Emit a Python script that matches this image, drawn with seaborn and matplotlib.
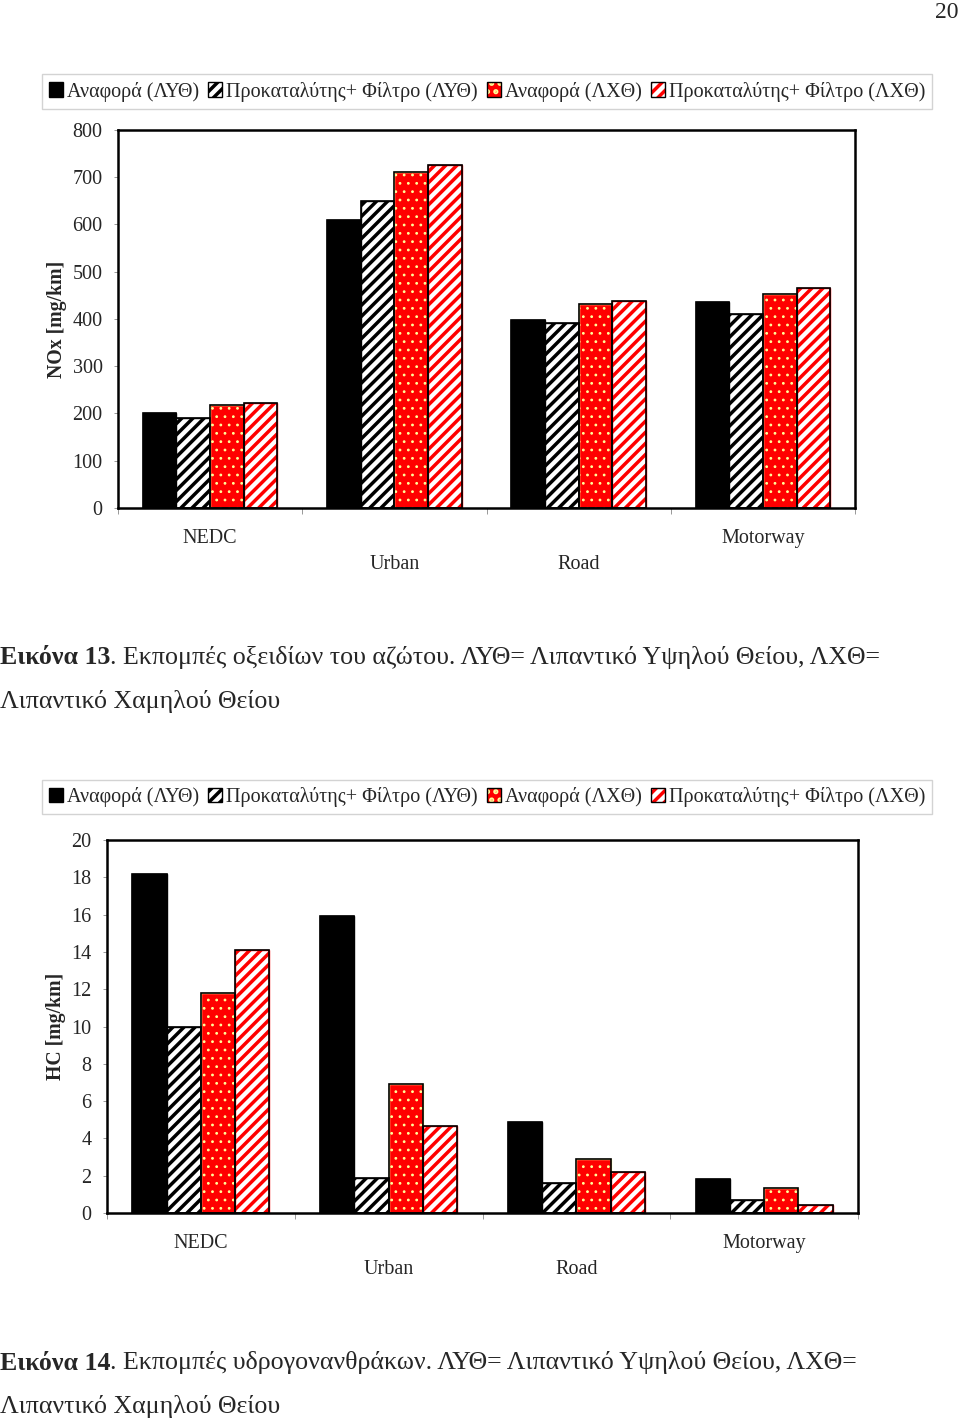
import numpy as np
import pandas as pd
import matplotlib
matplotlib.use("Agg")
import matplotlib.pyplot as plt
import seaborn as sns
from matplotlib.patches import Patch, Rectangle
from matplotlib.legend_handler import HandlerTuple

# test cycles and fuel/aftertreatment configurations
cycles = ["NEDC", "Urban", "Road", "Motorway"]
series = ["Αναφορά (ΛΥΘ)", "Προκαταλύτης+ Φίλτρο (ΛΥΘ)",
          "Αναφορά (ΛΧΘ)", "Προκαταλύτης+ Φίλτρο (ΛΧΘ)"]

# NOx [mg/km]
nox_ref_hs = [201, 610, 398, 436]
nox_filt_hs = [190, 650, 391, 411]
nox_ref_ls = [218, 711, 432, 453]
nox_filt_ls = [222, 726, 438, 466]

# HC [mg/km]
hc_ref_hs = [18.2, 15.9, 4.9, 1.8]
hc_filt_hs = [10.0, 1.9, 1.6, 0.7]
hc_ref_ls = [11.8, 6.9, 2.9, 1.35]
hc_filt_ls = [14.1, 4.65, 2.2, 0.45]

RED = "#ff0000"
styles = [
    dict(face="black", edge="black", hatch=None, hlw=1.0),
    dict(face="white", edge="black", hatch="///", hlw=2.5),
    dict(face=RED, edge="#ffff9a", hatch="..", hlw=0.8),
    dict(face="white", edge=RED, hatch="///", hlw=2.5),
]

sns.set_style("ticks")
plt.rcParams["font.family"] = ["Liberation Serif", "DejaVu Serif"]
plt.rcParams["hatch.linewidth"] = 2.5
FS = 14.5


def build_frame(values):
    return pd.DataFrame({
        "cycle": cycles * len(series),
        "series": np.repeat(series, len(cycles)),
        "value": np.concatenate(values),
    })


def style_patch(p, st):
    p.set_facecolor(st["face"])
    p.set_edgecolor(st["edge"])
    if st["hatch"]:
        p.set_hatch(st["hatch"])
        if hasattr(p, "set_hatch_linewidth"):
            p.set_hatch_linewidth(st["hlw"])


def draw_panel(ax, values, ymax, step, ylabel):
    df = build_frame(values)
    sns.barplot(data=df, x="cycle", y="value", hue="series", order=cycles,
                hue_order=series, palette=["black"] * 4, width=0.73, gap=0,
                saturation=1, errorbar=None, legend=False, ax=ax)
    for cont, st in zip(ax.containers, styles):
        for bar in cont:
            style_patch(bar, st)
            bar.set_linewidth(1.0)
            ax.add_patch(Rectangle(bar.get_xy(), bar.get_width(), bar.get_height(),
                                   fill=False, edgecolor="black", linewidth=1.2,
                                   zorder=bar.get_zorder() + 0.1))
    ax.set_xlim(-0.5, len(cycles) - 0.5)
    ax.set_ylim(0, ymax)
    ax.set_yticks(np.arange(0, ymax + step / 2, step))
    ax.set_xticks(range(len(cycles)))
    stagger = [False, True, True, False]
    ax.set_xticklabels(["\n" + c if s else c for c, s in zip(cycles, stagger)],
                       fontsize=14.5, linespacing=1.5)
    ax.set_xticks(np.arange(-0.5, len(cycles), 1), minor=True)
    ax.tick_params(axis="x", which="major", length=0, pad=15)
    ax.tick_params(axis="x", which="minor", length=4, width=0.6, color="#888888")
    ax.tick_params(axis="y", length=3, width=0.6, color="#888888", pad=8, labelsize=FS)
    ax.set_xlabel("")
    ax.set_ylabel(ylabel, fontsize=14.2, fontweight="bold", labelpad=4)
    for sp in ax.spines.values():
        sp.set_visible(True)
        sp.set_linewidth(1.8)
        sp.set_color("black")


def add_legend(fig, y):
    handles = []
    for st in styles:
        fill = Patch(linewidth=0)
        style_patch(fill, st)
        outline = Patch(fill=False, edgecolor="black", linewidth=1.0)
        handles.append((fill, outline))
    leg = fig.legend(handles, series, loc="center", bbox_to_anchor=(487 / 960, y),
                     ncol=4, fontsize=FS, frameon=True, fancybox=False,
                     edgecolor="#c8c8c8", handlelength=0.7, handleheight=0.7,
                     handletextpad=0.2, columnspacing=0.45, borderpad=0.35,
                     borderaxespad=0,
                     handler_map={tuple: HandlerTuple(ndivide=1, pad=0)})
    leg.get_frame().set_linewidth(1.0)
    return leg


def add_caption(fig, y, number, rest, line2, fs=18.6):
    t = fig.text(0.0, y, "Εικόνα " + number, fontsize=fs, fontweight="bold",
                 ha="left", va="center")
    fig.canvas.draw()
    x1 = t.get_window_extent().x1 / fig.bbox.width
    fig.text(x1, y, rest, fontsize=fs, ha="left", va="center")
    fig.text(0.0, y - 44 / 1424, line2, fontsize=fs, ha="left", va="center")


fig = plt.figure(figsize=(9.6, 14.24), dpi=100)

ax1 = fig.add_axes([118 / 960, 1 - 508 / 1424, 737 / 960, 378 / 1424])
draw_panel(ax1, [nox_ref_hs, nox_filt_hs, nox_ref_ls, nox_filt_ls], 800, 100,
           "NOx [mg/km]")
add_legend(fig, 1 - 91.5 / 1424)

ax2 = fig.add_axes([107 / 960, 1 - 1213 / 1424, 751 / 960, 373 / 1424])
draw_panel(ax2, [hc_ref_hs, hc_filt_hs, hc_ref_ls, hc_filt_ls], 20, 2,
           "HC [mg/km]")
add_legend(fig, 1 - 797 / 1424)

fig.text(958 / 960, 1 - 12 / 1424, "20", fontsize=17, ha="right", va="center")
add_caption(fig, 1 - 658 / 1424, "13",
            ". Εκπομπές οξειδίων του αζώτου. ΛΥΘ= Λιπαντικό Υψηλού Θείου, ΛΧΘ=",
            "Λιπαντικό Χαμηλού Θείου")
add_caption(fig, 1 - 1363 / 1424, "14",
            ". Εκπομπές υδρογονανθράκων. ΛΥΘ= Λιπαντικό Υψηλού Θείου, ΛΧΘ=",
            "Λιπαντικό Χαμηλού Θείου")

fig.savefig("out.png", dpi=100)
